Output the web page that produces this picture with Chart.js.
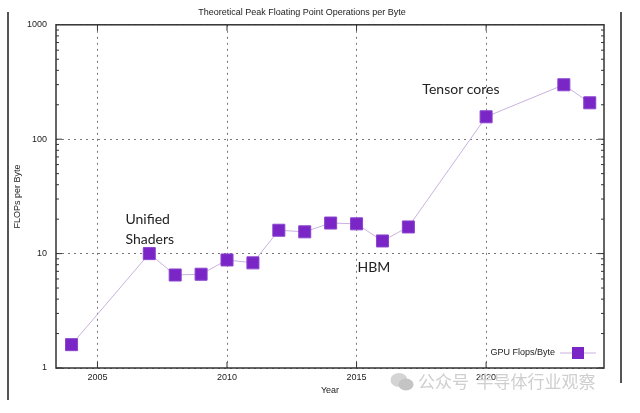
<!DOCTYPE html>
<html>
<head>
<meta charset="utf-8">
<script src="https://cdn.jsdelivr.net/npm/chart.js@4/dist/chart.umd.min.js"></script>
<style>
  html, body { margin: 0; padding: 0; background: #fff; }
  #wrap { position: relative; width: 640px; height: 413px; }
  #watermark {
    position: absolute; left: 390px; top: 370px;
    font-family: "Noto Sans CJK SC", sans-serif; font-size: 17px; color: #cfcfcf;
    white-space: nowrap; line-height: 22px;
  }
  #watermark svg { vertical-align: -4px; margin-right: 4px; }
</style>
</head>
<body>
<div id="wrap">
  <canvas id="chart" width="640" height="413"></canvas>
  <div id="watermark"><svg width="24" height="20" viewBox="0 0 24 20"><ellipse cx="9" cy="8" rx="8.5" ry="7" fill="#d4d4d4"/><ellipse cx="16" cy="12.5" rx="7.5" ry="6" fill="#c4c4c4"/></svg>公众号 &nbsp;半导体行业观察</div>
</div>
<script>
const years = [2004, 2007, 2008, 2009, 2010, 2011, 2012, 2013, 2014, 2015, 2016, 2017, 2020, 2023, 2024];
const flopsPerByte = [1.6, 10, 6.5, 6.6, 8.8, 8.3, 16, 15.5, 18.5, 18.2, 12.9, 17.1, 157, 299, 208];
const xTicks = [2005, 2010, 2015, 2020];
const yTicks = [1, 10, 100, 1000];
const notes = [
  { lines: ['Unified', 'Shaders'], year: 2006.08, value: 19.7 },
  { lines: ['HBM'], year: 2015.04, value: 7.5 },
  { lines: ['Tensor cores'], year: 2017.54, value: 270 }
];

const markerColor = '#7a26c6';
const lineColor = '#c9b2df';

const gnuplotFrame = {
  id: 'gnuplotFrame',
  afterDraw(chart) {
    const ctx = chart.ctx;
    const a = chart.chartArea;
    const xs = chart.scales.x, ys = chart.scales.y;
    ctx.save();
    // box
    ctx.strokeStyle = '#333';
    ctx.lineWidth = 1.5;
    ctx.strokeRect(a.left, a.top, a.right - a.left, a.bottom - a.top);
    // ticks inside the box
    ctx.lineWidth = 1;
    ctx.beginPath();
    xTicks.forEach(t => {
      const px = xs.getPixelForValue(t);
      ctx.moveTo(px, a.bottom); ctx.lineTo(px, a.bottom - 6);
      ctx.moveTo(px, a.top); ctx.lineTo(px, a.top + 6);
    });
    for (let d = 1; d < 1000; d *= 10) {
      for (let m = 1; m <= 9; m++) {
        const py = ys.getPixelForValue(d * m);
        const len = m === 1 ? 6 : 3;
        ctx.moveTo(a.left, py); ctx.lineTo(a.left + len, py);
        ctx.moveTo(a.right, py); ctx.lineTo(a.right - len, py);
      }
    }
    ctx.stroke();

    // notes
    ctx.fillStyle = '#222';
    ctx.font = '14px Lato, "Open Sans", sans-serif';
    ctx.textBaseline = 'middle';
    ctx.textAlign = 'left';
    notes.forEach(n => {
      const px = xs.getPixelForValue(n.year);
      const py = ys.getPixelForValue(n.value);
      n.lines.forEach((l, i) => ctx.fillText(l, px, py + i * 20));
    });

    // legend
    const ds = chart.data.datasets[0];
    const ly = 353, lx = 560;
    ctx.font = '9px "Liberation Sans", Arial, sans-serif';
    ctx.textAlign = 'right';
    ctx.fillStyle = '#222';
    ctx.fillText(ds.label, lx - 5, ly);
    ctx.strokeStyle = ds.borderColor;
    ctx.lineWidth = ds.borderWidth;
    ctx.beginPath(); ctx.moveTo(lx, ly); ctx.lineTo(lx + 36, ly); ctx.stroke();
    ctx.fillStyle = ds.pointBackgroundColor;
    ctx.fillRect(lx + 12, ly - 6, 12, 12);

    // screenshot frame
    ctx.strokeStyle = '#555';
    ctx.lineWidth = 2;
    ctx.beginPath();
    ctx.moveTo(8, 12); ctx.lineTo(8, 400);
    ctx.moveTo(621, 12); ctx.lineTo(621, 383);
    ctx.stroke();
    ctx.restore();
  }
};

const tickFont = { family: '"Liberation Sans", Arial, sans-serif', size: 9 };
const dotted = { display: true, color: '#777', lineWidth: 1, drawTicks: false };

new Chart(document.getElementById('chart'), {
  type: 'line',
  data: {
    datasets: [{
      label: 'GPU Flops/Byte',
      data: years.map((y, i) => ({ x: y, y: flopsPerByte[i] })),
      borderColor: lineColor,
      borderWidth: 1,
      pointStyle: 'rect',
      pointRadius: 8.5,
      pointBackgroundColor: markerColor,
      pointBorderColor: '#8a45cf',
      pointBorderWidth: 1,
      tension: 0
    }]
  },
  options: {
    responsive: false,
    animation: false,
    layout: { padding: { left: 0, right: 36, top: 0, bottom: 13 } },
    plugins: {
      legend: { display: false },
      tooltip: { enabled: false },
      title: {
        display: true,
        text: 'Theoretical Peak Floating Point Operations per Byte',
        color: '#222',
        font: { family: '"Liberation Sans", Arial, sans-serif', size: 9, weight: 'normal' },
        padding: { top: 7, bottom: 7 }
      }
    },
    scales: {
      x: {
        type: 'linear',
        min: 2003.4,
        max: 2024.55,
        afterBuildTicks: s => { s.ticks = xTicks.map(v => ({ value: v })); },
        afterFit: s => { s.height = 32; },
        ticks: { color: '#222', font: tickFont, padding: 4, maxRotation: 0, callback: v => String(v) },
        grid: dotted,
        border: { display: false, dash: [2, 4] },
        title: { display: true, text: 'Year', color: '#222', font: tickFont, padding: { top: 0, bottom: 4 } }
      },
      y: {
        type: 'logarithmic',
        min: 1,
        max: 1000,
        afterBuildTicks: s => { s.ticks = yTicks.map(v => ({ value: v })); },
        afterFit: s => { s.width = 56; },
        ticks: { color: '#222', font: tickFont, padding: 9, callback: v => String(v) },
        grid: dotted,
        border: { display: false, dash: [2, 4] },
        title: { display: true, text: 'FLOPs per Byte', color: '#222', font: tickFont, padding: { top: 12, bottom: 0 } }
      }
    }
  },
  plugins: [gnuplotFrame]
});
</script>
</body>
</html>
